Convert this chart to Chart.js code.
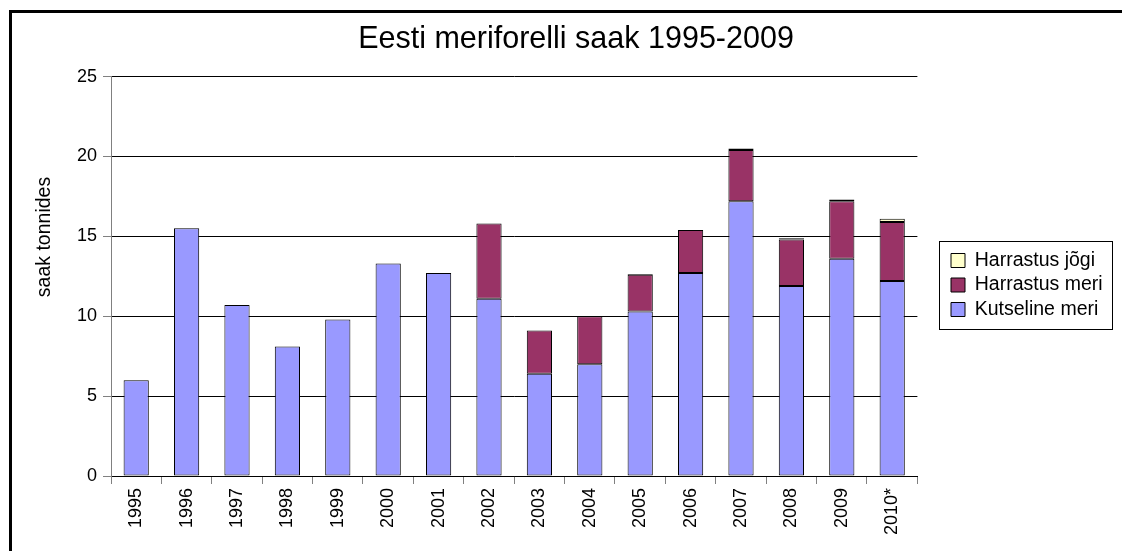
<!DOCTYPE html>
<html>
<head>
<meta charset="utf-8">
<script src="https://cdn.jsdelivr.net/npm/chart.js@4"></script>
<style>
html,body{margin:0;padding:0;background:#fff;overflow:hidden}
#wrap{width:1122px;height:551px;position:relative}
</style>
</head>
<body>
<div id="wrap"><canvas id="c" width="1122" height="551"></canvas></div>
<script>
// ---- data ----
const years = ['1995','1996','1997','1998','1999','2000','2001','2002','2003','2004','2005','2006','2007','2008','2009','2010*'];
const kutselineMeri = [6.0, 15.5, 10.7, 8.1, 9.8, 13.3, 12.7, 11.1, 6.4, 7.0, 10.3, 12.7, 17.2, 11.9, 13.6, 12.2];
const harrastusMeri = [null, null, null, null, null, null, null, 4.7, 2.7, 3.0, 2.3, 2.7, 3.2, 2.9, 3.6, 3.7];
const harrastusJogi = [null, null, null, null, null, null, null, null, null, null, 0.05, null, 0.1, 0.08, 0.1, 0.2];
const yTickValues = [0, 5, 10, 15, 20, 25];
const seriesNames = ['Kutseline meri', 'Harrastus meri', 'Harrastus jõgi'];
const chartTitle = 'Eesti meriforelli saak 1995-2009';
const yAxisTitle = 'saak tonnides';

const FONT = '"Liberation Sans", Arial, sans-serif';

const framePlugin = {
  id: 'frame',
  beforeDraw(chart) {
    const ctx = chart.ctx;
    ctx.save();
    ctx.fillStyle = '#fff';
    ctx.fillRect(0, 0, chart.width, chart.height);
    ctx.fillStyle = '#000';
    ctx.fillRect(9, 10, 3, chart.height - 10);
    ctx.fillRect(9, 10, chart.width - 9, 3);
    ctx.restore();
  },
  afterLayout(chart) {
    // title centred on the whole framed picture
    const t = chart.titleBlock;
    t.left = 30; t.right = chart.width; t.width = t.right - t.left;
    // legend box placement
    const lg = chart.legend;
    const pad = lg.options.labels.padding;
    const bx = 939, by = 241, bw = 173, bh = 88;
    lg.left = bx + 12 - pad; lg.right = bx + bw; lg.top = by; lg.bottom = by + bh;
    lg.width = lg.right - lg.left; lg.height = bh;
    lg._frame = {x: bx, y: by, w: bw, h: bh};
  },
  afterDraw(chart) {
    const ctx = chart.ctx;
    const f = chart.legend._frame;
    ctx.save();
    if (f) {
      ctx.strokeStyle = '#000';
      ctx.lineWidth = 1;
      ctx.strokeRect(f.x + 0.5, f.y + 0.5, f.w, f.h);
    }
    // vertical axis title
    ctx.translate(45, 237);
    ctx.rotate(-Math.PI / 2);
    ctx.fillStyle = '#000';
    ctx.font = '19.5px ' + FONT;
    ctx.textAlign = 'center';
    ctx.textBaseline = 'middle';
    ctx.fillText(yAxisTitle, 0, 0);
    ctx.restore();
  }
};

new Chart(document.getElementById('c'), {
  type: 'bar',
  data: {
    labels: years,
    datasets: [
      { label: seriesNames[0], data: kutselineMeri, backgroundColor: '#9999FF', borderColor: '#000', borderWidth: 1, borderSkipped: false },
      { label: seriesNames[1], data: harrastusMeri, backgroundColor: '#993366', borderColor: '#000', borderWidth: 1, borderSkipped: false },
      { label: seriesNames[2], data: harrastusJogi, backgroundColor: '#FFFFCC', borderColor: '#000', borderWidth: 1, borderSkipped: false }
    ]
  },
  options: {
    responsive: false,
    devicePixelRatio: 1,
    animation: false,
    layout: { padding: { left: 0, right: 38, top: 10, bottom: 0 } },
    datasets: { bar: { barPercentage: 0.5, categoryPercentage: 1.0 } },
    plugins: {
      title: {
        display: true, text: chartTitle, color: '#000',
        font: { family: FONT, size: 30.5, weight: 'normal' },
        padding: { top: 11, bottom: 19 }
      },
      legend: {
        position: 'right', reverse: true,
        labels: {
          color: '#000', boxWidth: 14, boxHeight: 14, padding: 5,
          font: { family: FONT, size: 19.5 }
        }
      },
      tooltip: { enabled: false }
    },
    scales: {
      x: {
        stacked: true,
        grid: { offset: true, drawOnChartArea: false, tickLength: 8, color: '#808080' },
        border: { color: '#000', width: 1 },
        ticks: { color: '#000', minRotation: 90, maxRotation: 90, padding: 4, autoSkip: false, font: { family: FONT, size: 18 } },
        afterFit(scale) { scale.height = 75; }
      },
      y: {
        stacked: true, min: 0, max: 25,
        afterBuildTicks(scale) { scale.ticks = yTickValues.map(v => ({ value: v })); },
        grid: { color: '#000', tickColor: '#808080', tickLength: 8 },
        border: { color: '#808080', width: 1 },
        ticks: { color: '#000', padding: 6, font: { family: FONT, size: 18 } },
        afterFit(scale) { scale.width = 111; }
      }
    }
  },
  plugins: [framePlugin]
});
</script>
</body>
</html>
